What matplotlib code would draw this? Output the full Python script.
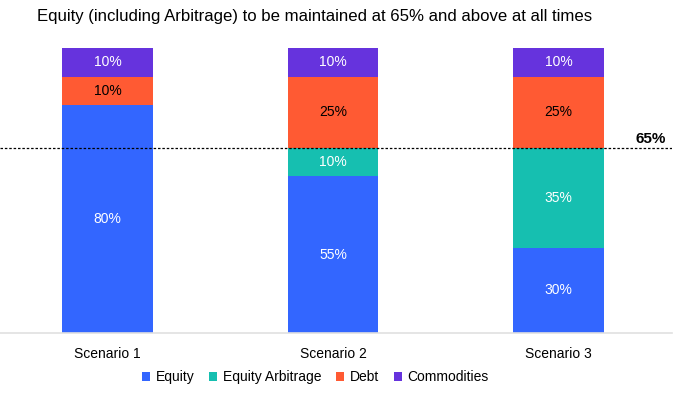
import numpy as np
import matplotlib.pyplot as plt

plt.rcParams['font.family'] = ['Liberation Sans', 'DejaVu Sans']

scenarios = ['Scenario 1', 'Scenario 2', 'Scenario 3']
equity = [80, 55, 30]
arbitrage = [0, 10, 35]
debt = [10, 25, 25]
commodities = [10, 10, 10]

series = [('Equity', equity, '#3366FF', 'white'),
          ('Equity Arbitrage', arbitrage, '#16BFB0', 'white'),
          ('Debt', debt, '#FF5A33', 'black'),
          ('Commodities', commodities, '#6633DD', 'white')]

fig = plt.figure(figsize=(6.74, 3.94), dpi=100)
ax = fig.add_axes([0, 1 - 333 / 394, 672 / 674, 285 / 394])

x = np.arange(len(scenarios))
bottom = np.zeros(len(scenarios))
for name, vals, col, tc in series:
    vals = np.array(vals, dtype=float)
    ax.bar(x, vals, 0.4, bottom=bottom, color=col, label=name)
    for xi, b, v in zip(x, bottom, vals):
        if v > 0:
            ax.text(xi, b + v / 2, f'{int(v)}%', ha='center', va='center',
                    color=tc, fontsize=10)
    bottom += vals

ax.set_xlim(-0.477, 2.503)
ax.set_ylim(0, 100)
ax.axhline(65, color='black', linestyle=(0, (2, 1.5)), linewidth=0.9)
ax.text(2.41, 65.6, '65%', ha='center', va='bottom', fontsize=11,
        fontweight='bold')

for s in ['top', 'right', 'left']:
    ax.spines[s].set_visible(False)
ax.spines['bottom'].set_color('#e0e0e0')
ax.spines['bottom'].set_linewidth(1.2)
ax.set_yticks([])
ax.set_xticks(x)
ax.set_xticklabels(scenarios, fontsize=10)
ax.tick_params(axis='x', length=0, pad=10)

fig.text(0.055, 0.957, 'Equity (including Arbitrage) to be maintained at 65% and above at all times',
         fontsize=12.05, va='center', ha='left')

fig.legend(loc='center', bbox_to_anchor=(0.468, 0.043), ncol=4, frameon=False,
           fontsize=10, handlelength=0.6, handleheight=0.6, handletextpad=0.4,
           columnspacing=1.05)

fig.savefig('out.png', dpi=100)
